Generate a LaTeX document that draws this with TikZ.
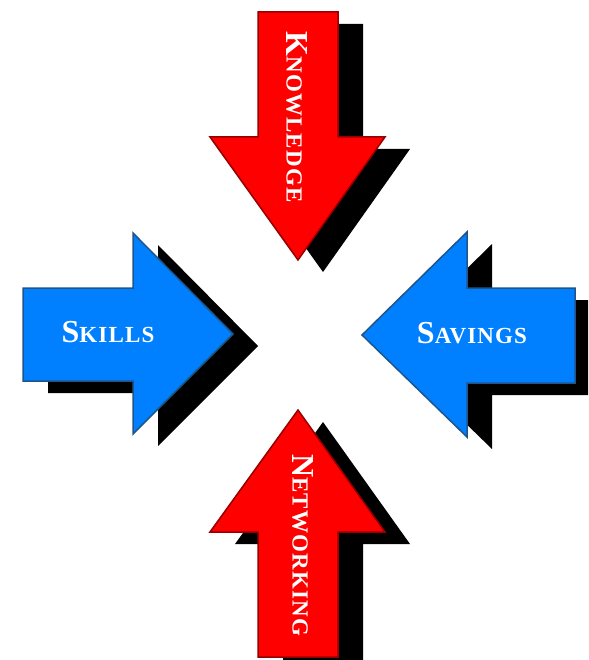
\documentclass[tikz,border=0pt]{standalone}
\usepackage{fontspec}
\setmainfont{Liberation Serif}[LetterSpace=5]
\definecolor{arrred}{RGB}{255,0,0}
\definecolor{arrredline}{RGB}{150,0,0}
\definecolor{arrblue}{RGB}{0,128,255}
\definecolor{arrblueline}{RGB}{30,85,140}
\newcommand\mysc[2]{{\fontsize{32}{32}\selectfont #1}{\fontsize{23}{23}\selectfont #2}}
\tikzset{
  redarrow/.style={fill=arrred, draw=arrredline, line width=1.5pt, line join=miter},
  bluearrow/.style={fill=arrblue, draw=arrblueline, line width=1.5pt, line join=miter},
  shadowarrow/.style={fill=black, draw=none},
  lbl/.style={text=white, font=\bfseries, inner sep=0pt}
}
\begin{document}
\begin{tikzpicture}[x=1pt,y=-1pt]
\useasboundingbox (0,0) rectangle (588,660);
\clip (0,0) rectangle (588,660);
% shadows
\begin{scope}[shift={(25,12)}]
  \fill[shadowarrow] (258,12) -- (338,12) -- (338,137) -- (385,137) -- (298,260) -- (210,137) -- (258,137) -- cycle;
  \fill[shadowarrow] (298,410) -- (385,532) -- (338,532) -- (338,700) -- (258,700) -- (258,532) -- (210,532) -- cycle;
  \fill[shadowarrow] (23,288) -- (133,288) -- (133,233) -- (233,334) -- (133,434) -- (133,381) -- (23,381) -- cycle;
  \fill[shadowarrow] (362,335) -- (467,232) -- (467,288) -- (575,288) -- (575,383) -- (467,383) -- (467,437) -- cycle;
\end{scope}
% arrows
\draw[redarrow] (258,12) -- (338,12) -- (338,137) -- (385,137) -- (298,260) -- (210,137) -- (258,137) -- cycle;
\draw[redarrow] (298,410) -- (385,532) -- (338,532) -- (338,657) -- (258,657) -- (258,532) -- (210,532) -- cycle;
\draw[bluearrow] (23,288) -- (133,288) -- (133,233) -- (233,334) -- (133,434) -- (133,381) -- (23,381) -- cycle;
\draw[bluearrow] (362,335) -- (467,232) -- (467,288) -- (575,288) -- (575,383) -- (467,383) -- (467,437) -- cycle;
% labels
\node[lbl, rotate=-90] (knowledge) at (297,117) {\mysc{K}{NOWLEDGE}};
\node[lbl, rotate=-90] (networking) at (303,545) {\mysc{N}{ETWORKING}};
\node[lbl] (skills) at (108,332) {\mysc{S}{KILLS}};
\node[lbl] (savings) at (472,333) {\mysc{S}{AVINGS}};
\end{tikzpicture}
\end{document}
